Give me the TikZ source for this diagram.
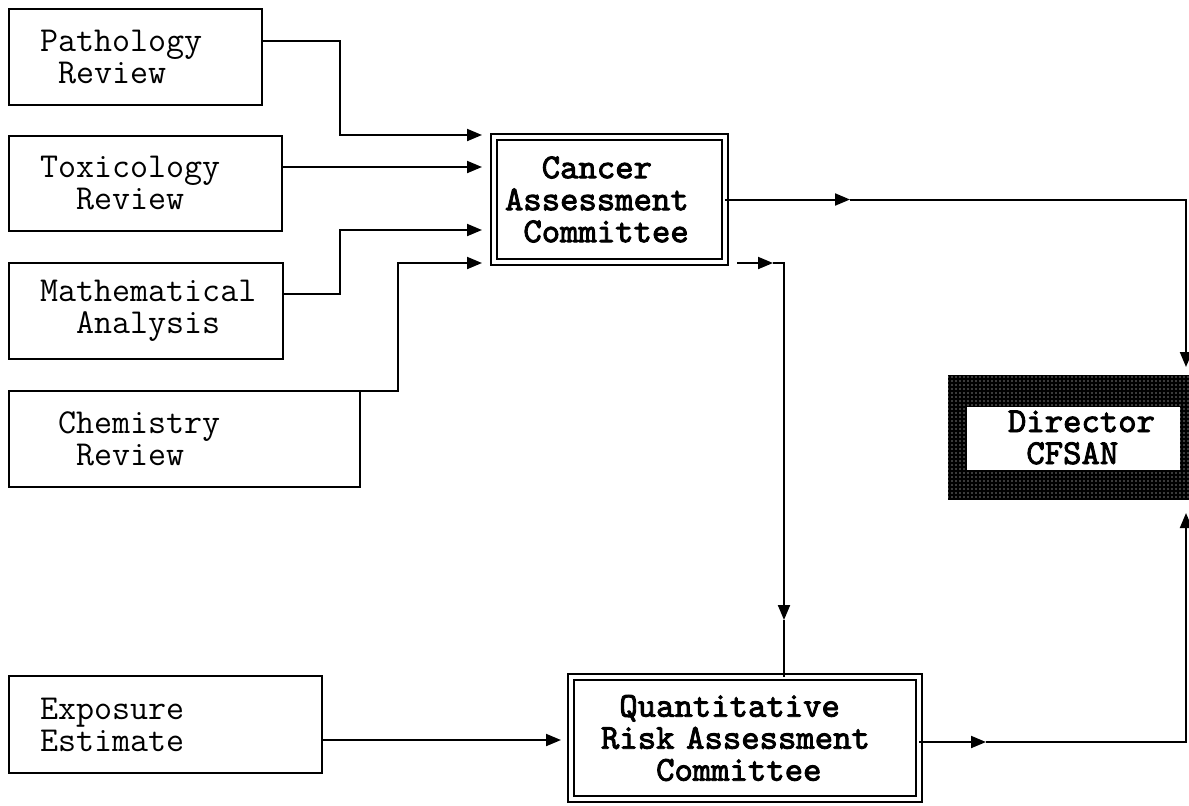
\documentclass[tikz,border=0pt]{standalone}
\usepackage{fontspec}
\newfontfamily\heavymono[FakeBold=2.5]{lmmono10-regular.otf}
\usepackage{tikz}
\usetikzlibrary{positioning, arrows.meta, patterns.meta}
\hfuzz=30pt
\newcommand{\chsp}{\hphantom{x}}

\begin{document}
\begin{tikzpicture}[x=0.5pt, y=-0.5pt, line width=1pt,
	review/.style = {draw, line width=1.1pt, outer sep=0pt, inner xsep=15.5pt, inner ysep=0pt, align=left, anchor=north west, font=\ttfamily\fontsize{17.5}{16}\selectfont},
	committee/.style = {draw, double, double distance=2pt, line width=1pt, outer sep=0pt, inner ysep=0pt, align=left, anchor=north west, font=\heavymono\fontsize{17.5}{16}\selectfont},
	head/.style = {preaction={fill=black}, pattern={Dots[distance=2pt, radius=0.35pt]}, pattern color=white, outer sep=0pt, inner xsep=30pt, inner ysep=0pt, align=left, anchor=north west, font=\heavymono\fontsize{17.5}{16}\selectfont},
	feed/.style = {-{Triangle[length=7.5pt, width=6pt]}}]
			\useasboundingbox (0,0) rectangle (1189,805);
			
			\node[review, minimum width=126.5pt, minimum height=48pt, text width=95.5pt] (1) at (9,9) {Pathology\\\chsp Review};
			\node[review, minimum width=136.5pt, minimum height=47.5pt, text width=105.5pt] (2) [below right=15.5pt and 0pt of 1.south west] {Toxicology\\\chsp\chsp Review};
			\node[review, minimum width=137pt, minimum height=48pt, text width=106pt] (3) [below right=16pt and 0pt of 2.south west] {Mathematical\\\chsp\chsp Analysis};
			\node[review, minimum width=175.5pt, minimum height=48pt, text width=144.5pt] (4) [below right=16pt and 0pt of 3.south west] {\chsp Chemistry\\\chsp\chsp Review};
			\node[review, minimum width=156.5pt, minimum height=48.5pt, text width=125.5pt] (5) at (9,676) {Exposure\\Estimate};
			\node[committee, minimum width=115.5pt, minimum height=62.5pt, text width=104.5pt, inner xsep=5.5pt] (6) at (494,137) {\chsp\chsp Cancer\\Assessment\\\chsp Committee};
			\node[committee, minimum width=174pt, minimum height=61pt, text width=144pt, inner xsep=15pt] (7) at (571,677) {\chsp Quantitative\\Risk Assessment\\\chsp\chsp\chsp Committee};
			\node[head, minimum width=120.5pt, minimum height=62.5pt, text width=60.5pt, path picture={\fill[white] ([xshift=9.5pt, yshift=-16pt]path picture bounding box.north west) rectangle ++(106.5pt,-31.5pt);}] (8) at (948,375) {Director\\\chsp CFSAN};
			
			\coordinate (j1) at (340,135);
			\coordinate (j2) at (340,230);
			\coordinate (j3) at (398,263);
			\coordinate (m1) at (850,199.5);
			\coordinate (m2) at (773,263);
			\coordinate (m3) at (784,620);
			\coordinate (m4) at (986,742);
			
			\draw[feed, shorten >=6pt] ([yshift=8pt]1.east) -| (j1) -- ([yshift=32.25pt]6.west);
			\draw[feed, shorten >=6pt] ([yshift=8.25pt]2.east) -- ([yshift=16.25pt]6.west);
			\draw[feed, shorten >=6pt] ([yshift=8.5pt]3.east) -| (j2) -- ([yshift=-15.25pt]6.west);
			\draw[feed, shorten >=6pt] (4.north east) -| (j3) -- ([yshift=-31.75pt]6.west);
			\draw[feed, shorten >=5pt] ([yshift=-7.75pt]5.east) -- ([yshift=-1pt]7.west);
			\draw[feed] (6.east) -- (m1);
			\draw[feed, shorten >=4pt] (m1) -| ([xshift=-1.5pt]8.north east);
			\draw[feed, shorten <=6pt] ([yshift=-31.75pt]6.east) -- (m2);
			\draw[feed] (m2) -| (m3);
			\draw (m3) -- ([xshift=19.5pt]7.north);
			\draw[feed] ([yshift=-2pt]7.east) -- (m4);
			\draw[feed, shorten >=6.5pt] (m4) -| ([xshift=-1.5pt]8.south east);
		\end{tikzpicture}
\end{document}
